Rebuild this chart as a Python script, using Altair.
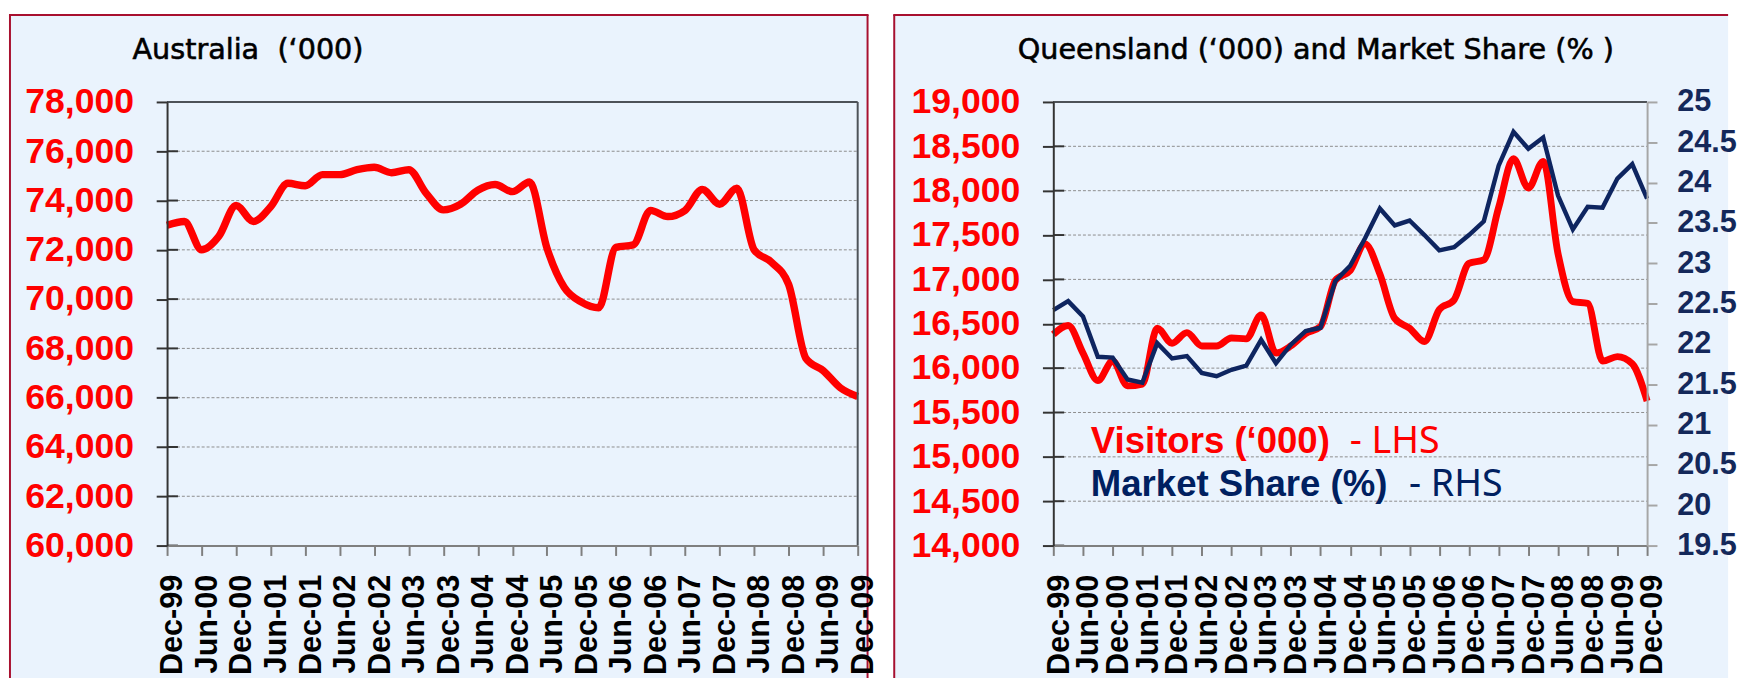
import altair as alt
import pandas as pd

# ---------------- data ----------------
quarters = ["Dec-99", "Mar-00", "Jun-00", "Sep-00", "Dec-00", "Mar-01", "Jun-01", "Sep-01",
            "Dec-01", "Mar-02", "Jun-02", "Sep-02", "Dec-02", "Mar-03", "Jun-03", "Sep-03",
            "Dec-03", "Mar-04", "Jun-04", "Sep-04", "Dec-04", "Mar-05", "Jun-05", "Sep-05",
            "Dec-05", "Mar-06", "Jun-06", "Sep-06", "Dec-06", "Mar-07", "Jun-07", "Sep-07",
            "Dec-07", "Mar-08", "Jun-08", "Sep-08", "Dec-08", "Mar-09", "Jun-09", "Sep-09",
            "Dec-09"]
tick_labels = ["Dec-99", "Jun-00", "Dec-00", "Jun-01", "Dec-01", "Jun-02", "Dec-02", "Jun-03",
               "Dec-03", "Jun-04", "Dec-04", "Jun-05", "Dec-05", "Jun-06", "Dec-06", "Jun-07",
               "Dec-07", "Jun-08", "Dec-08", "Jun-09", "Dec-09"]

australia = [73000, 73150, 72000, 72550, 73800, 73150, 73750, 74700, 74600, 75050,
             75050, 75250, 75350, 75130, 75250, 74300, 73620, 73850, 74420, 74650,
             74360, 74750, 72080, 70480, 69880, 69650, 72100, 72200, 73600, 73350,
             73600, 74450, 73850, 74500, 72000, 71500, 70600, 67600, 67100, 66400,
             66050]
qld_visitors = [16380, 16480, 16170, 15860, 16080, 15800, 15820, 16450, 16280, 16400,
                16250, 16250, 16340, 16330, 16600, 16170, 16250, 16390, 16470, 16990,
                17100, 17400, 17060, 16560, 16450, 16300, 16660, 16770, 17180, 17220,
                17810, 18360, 18030, 18330, 17290, 16750, 16730, 16080, 16130, 16050,
                15630]
qld_share = [22.42, 22.53, 22.34, 21.84, 21.83, 21.56, 21.52, 22.01, 21.82, 21.85,
             21.64, 21.60, 21.68, 21.73, 22.05, 21.76, 21.99, 22.16, 22.20, 22.78,
             22.97, 23.31, 23.68, 23.47, 23.53, 23.35, 23.16, 23.20, 23.35, 23.52,
             24.21, 24.63, 24.42, 24.56, 23.84, 23.42, 23.70, 23.69, 24.05, 24.23,
             23.80]

aus_ticks = [60000, 62000, 64000, 66000, 68000, 70000, 72000, 74000, 76000, 78000]
qld_ticks = [14000, 14500, 15000, 15500, 16000, 16500, 17000, 17500, 18000, 18500, 19000]
share_ticks = [19.5, 20, 20.5, 21, 21.5, 22, 22.5, 23, 23.5, 24, 24.5, 25]

title_left = "Australia\u00a0 (\u2018000)"
title_right = "Queensland (\u2018000) and Market Share (%\u00a0)"
legend_vis_bold = "Visitors (\u2018000)"
legend_vis_reg = "- LHS"
legend_share_bold = "Market Share (%)"
legend_share_reg = "- RHS"

# ---------------- styling ----------------
PANEL = "#EAF3FD"
BORDER = "#A8102F"
PLOTBORDER = "#4D5258"
AXDARK = "#333333"
AXGRAY = "#7F7F7F"
AXLIGHT = "#A6A6A6"
GRID = "#8C8C8C"
RED = "#FF0000"
NAVY = "#0E2560"
NAVYTXT = "#002060"
W1, W2, H = 699, 601, 449

df_aus = pd.DataFrame({"quarter": quarters, "visitors": australia})
df_qld = pd.DataFrame({"quarter": quarters, "visitors": qld_visitors, "share": qld_share})
one = pd.DataFrame({"k": [0]})


def x_enc():
    return alt.X(
        "quarter:N", sort=quarters,
        scale=alt.Scale(type="point", padding=0),
        axis=alt.Axis(values=tick_labels, labelAngle=-90, labelFont="Liberation Sans",
                      labelFontSize=31, labelFontWeight="bold", labelColor="black",
                      labelPadding=19, labelOffset=6, labelOverlap=False,
                      tickSize=10, tickColor=AXGRAY, tickWidth=2,
                      domainColor=AXGRAY, domainWidth=2, grid=False, title=None, zindex=1),
    )


def left_axis(vals):
    return alt.Axis(values=vals, format=",.0f", labelFont="Liberation Sans", labelFontSize=36,
                    labelFontWeight="bold", labelColor=RED, labelPadding=23,
                    tickSize=11, tickColor=AXDARK, tickWidth=2, domainColor=AXDARK,
                    domainWidth=2, grid=False, title=None, zindex=1, orient="left")


def deco_rule(x, y, x2=None, y2=None, color=BORDER, width=2):
    enc = {"x": alt.value(x), "y": alt.value(y)}
    if x2 is not None:
        enc["x2"] = alt.value(x2)
    if y2 is not None:
        enc["y2"] = alt.value(y2)
    return alt.Chart(one).mark_rule(color=color, strokeWidth=width).encode(**enc)


def text_mark(txt, x, y, font, size, weight, color, stroke_w=0):
    kw = dict(text=txt, font=font, fontSize=size, fontWeight=weight, fill=color,
              align="left", baseline="alphabetic")
    if stroke_w:
        kw.update(stroke=color, strokeWidth=stroke_w)
    return alt.Chart(one).mark_text(**kw).encode(x=alt.value(x), y=alt.value(y))


# ---------------- left panel ----------------
aus_scale = alt.Scale(domain=[60000, 78000], nice=False, zero=False)
aus_axis = left_axis(aus_ticks)
df_aus_ticks = pd.DataFrame({"visitors": aus_ticks})

bg1 = alt.Chart(one).mark_rect(color=PANEL, strokeWidth=0).encode(
    x=alt.value(-160), x2=alt.value(709), y=alt.value(-88), y2=alt.value(583))
grid1 = alt.Chart(df_aus_ticks).mark_rule(color=GRID, strokeWidth=1, strokeDash=[3, 2]).encode(
    y=alt.Y("visitors:Q", scale=aus_scale, axis=aus_axis), x=alt.value(0), x2=alt.value(W1))
inner1 = alt.Chart(df_aus_ticks).mark_rule(color=AXDARK, strokeWidth=2).encode(
    y=alt.Y("visitors:Q", scale=aus_scale, axis=aus_axis), x=alt.value(0), x2=alt.value(11))
line1 = alt.Chart(df_aus).mark_line(color=RED, strokeWidth=7.5, interpolate="monotone").encode(
    x=x_enc(), y=alt.Y("visitors:Q", scale=aus_scale, axis=aus_axis))

left = alt.layer(
    bg1,
    deco_rule(-159, -88, y2=583),
    deco_rule(709, -88, y2=583),
    deco_rule(-160, -88, x2=710),
    grid1, inner1, line1,
    deco_rule(0, 0, x2=W1, color=PLOTBORDER),
    deco_rule(W1, 0, y2=H, color=PLOTBORDER),
    text_mark(title_left, -35, -43, "DejaVu Sans", 29, "normal", "black", 0.6),
).properties(width=W1, height=H)

# ---------------- right panel ----------------
qld_scale = alt.Scale(domain=[14000, 19000], nice=False, zero=False)
qld_axis = left_axis(qld_ticks)
share_scale = alt.Scale(domain=[19.5, 25], nice=False, zero=False)
share_axis = alt.Axis(values=share_ticks, format="~g", labelFont="Liberation Sans",
                      labelFontSize=31, labelFontWeight="bold", labelColor="#14285A",
                      labelPadding=20, tickSize=10, tickColor=AXLIGHT, tickWidth=2,
                      domainColor=AXLIGHT, domainWidth=2, grid=False, title=None,
                      zindex=1, orient="right")
df_qld_ticks = pd.DataFrame({"visitors": qld_ticks})

bg2 = alt.Chart(one).mark_rect(color=PANEL, strokeWidth=0).encode(
    x=alt.value(-162), x2=alt.value(683), y=alt.value(-88), y2=alt.value(583))
grid2 = alt.Chart(df_qld_ticks).mark_rule(color=GRID, strokeWidth=1, strokeDash=[3, 2]).encode(
    y=alt.Y("visitors:Q", scale=qld_scale, axis=qld_axis), x=alt.value(0), x2=alt.value(W2))
inner2 = alt.Chart(df_qld_ticks).mark_rule(color=AXDARK, strokeWidth=2).encode(
    y=alt.Y("visitors:Q", scale=qld_scale, axis=qld_axis), x=alt.value(0), x2=alt.value(11))
line2 = alt.Chart(df_qld).mark_line(color=RED, strokeWidth=7, interpolate="monotone").encode(
    x=x_enc(), y=alt.Y("visitors:Q", scale=qld_scale, axis=qld_axis))
vis_group = alt.layer(grid2, inner2, line2)

share_line = alt.Chart(df_qld).mark_line(color=NAVY, strokeWidth=4.5).encode(
    x=x_enc(), y=alt.Y("share:Q", scale=share_scale, axis=share_axis))

right = alt.layer(
    bg2,
    deco_rule(-161, -88, y2=583),
    deco_rule(-162, -88, x2=683),
    vis_group,
    share_line,
    deco_rule(0, 0, x2=W2, color=PLOTBORDER),
    text_mark(title_right, -36, -43, "DejaVu Sans", 29, "normal", "black", 0.6),
    text_mark(legend_vis_bold, 38, 355, "Liberation Sans", 37, "bold", RED),
    text_mark(legend_vis_reg, 300, 355, "Noto Sans", 38, "normal", RED),
    text_mark(legend_share_bold, 38, 399, "Liberation Sans", 37, "bold", NAVYTXT),
    text_mark(legend_share_reg, 360, 399, "Noto Sans", 38, "normal", NAVYTXT),
).resolve_scale(y="independent").properties(width=W2, height=H)

chart = alt.hconcat(left, right, spacing=14).properties(
    padding={"left": 0, "top": 2, "right": 0, "bottom": 0},
    background="white",
).configure_view(strokeWidth=0)

chart.save("out.html", embed_options={"renderer": "svg", "actions": False})
